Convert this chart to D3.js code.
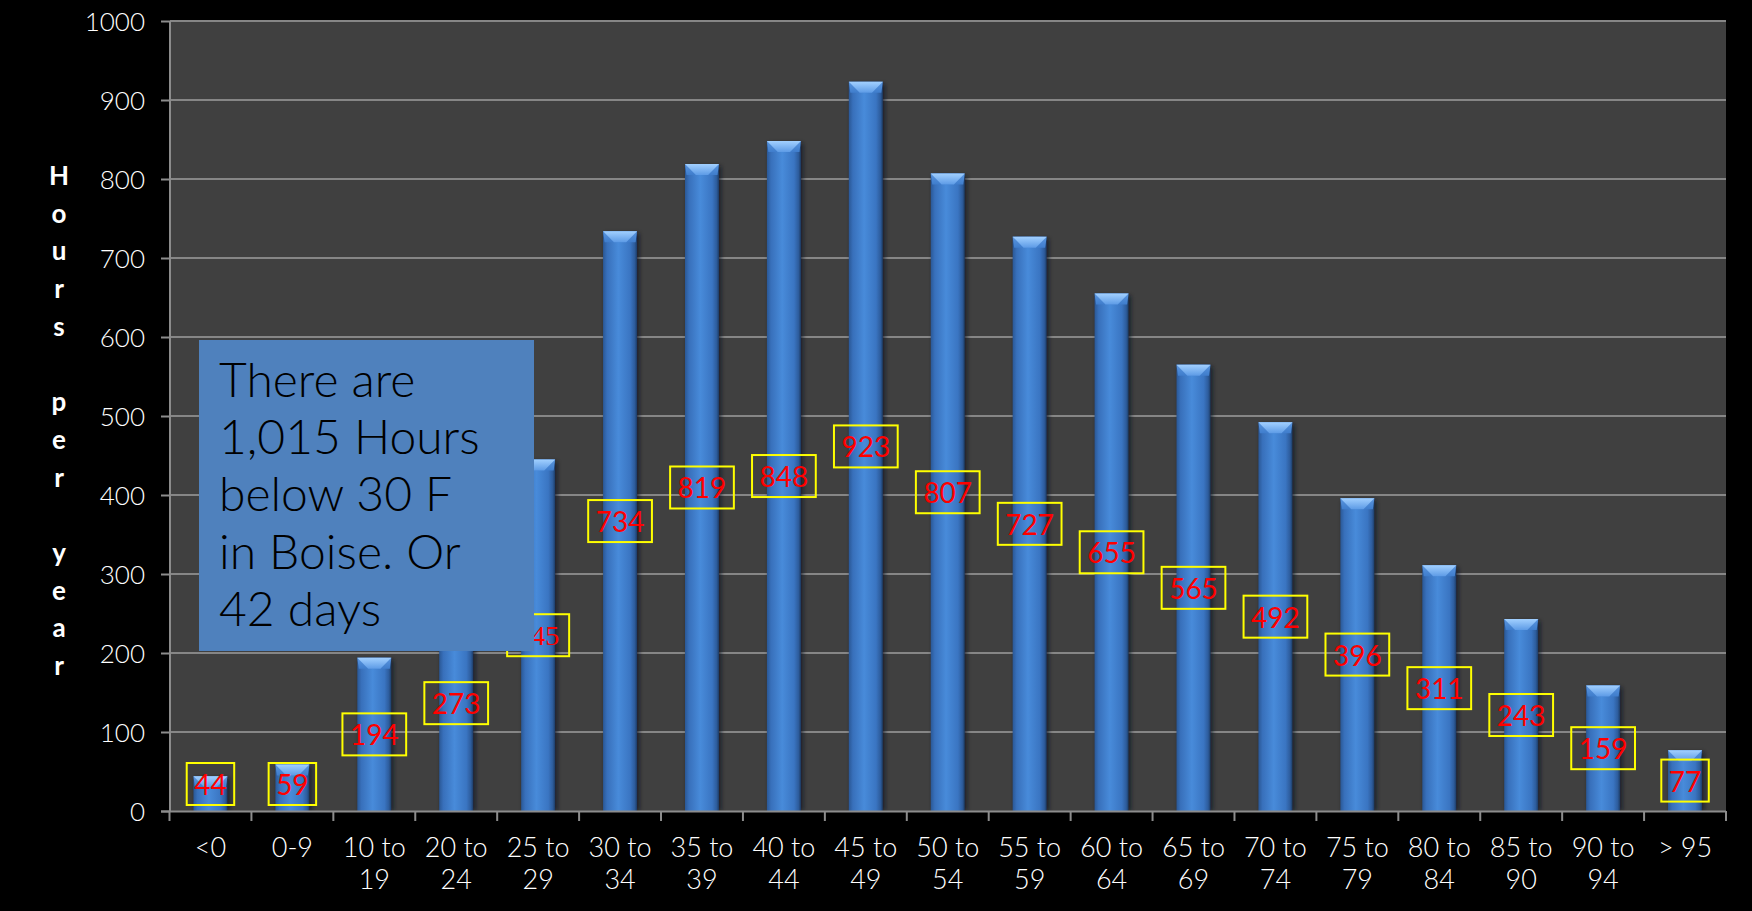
<!DOCTYPE html>
<html>
<head>
<meta charset="utf-8">
<script src="https://cdn.jsdelivr.net/npm/d3@7/dist/d3.min.js"></script>
<style>
  html, body { margin: 0; padding: 0; background: #000; }
  svg { display: block; }
</style>
</head>
<body>
<svg id="chart" width="1752" height="911"></svg>
<script>
// Hours per year spent in each temperature bin (°F), Boise
const categories = ["<0", "0-9", "10 to 19", "20 to 24", "25 to 29", "30 to 34", "35 to 39",
  "40 to 44", "45 to 49", "50 to 54", "55 to 59", "60 to 64", "65 to 69", "70 to 74",
  "75 to 79", "80 to 84", "85 to 90", "90 to 94", "> 95"];
const hours = [44, 59, 194, 273, 445, 734, 819, 848, 923, 807, 727, 655, 565, 492, 396, 311, 243, 159, 77];
const yTicks = [0, 100, 200, 300, 400, 500, 600, 700, 800, 900, 1000];
const yTitle = "Hours per year";
const noteLines = ["There are", "1,015 Hours", "below 30 F", "in Boise. Or", "42 days"];

const FONT = "'Century Gothic', 'URW Gothic', Lato, 'Noto Sans', sans-serif";

const svg = d3.select("#chart");
const W = 1752, H = 911;
const plot = { left: 170, right: 1726, top: 21, bottom: 811 };

svg.append("rect").attr("width", W).attr("height", H).attr("fill", "#000");

const x = d3.scaleBand()
  .domain(categories)
  .range([169.5, plot.right])
  .paddingInner(0.585)
  .paddingOuter(0.2925);

const y = d3.scaleLinear().domain([0, 1000]).range([plot.bottom, plot.top]);

const defs = svg.append("defs");

const barGrad = defs.append("linearGradient").attr("id", "barGrad")
  .attr("x1", "0%").attr("x2", "100%").attr("y1", "0%").attr("y2", "0%");
[["0%", "#2a5896"], ["12%", "#3870bb"], ["45%", "#488bda"], ["80%", "#3a75c2"], ["93%", "#2d5c9c"], ["100%", "#1d3c66"]]
  .forEach(([o, c]) => barGrad.append("stop").attr("offset", o).attr("stop-color", c));

const capGrad = defs.append("linearGradient").attr("id", "capGrad")
  .attr("x1", "0%").attr("x2", "0%").attr("y1", "0%").attr("y2", "100%");
[["0%", "#a2d0ff"], ["100%", "#5d9be6"]]
  .forEach(([o, c]) => capGrad.append("stop").attr("offset", o).attr("stop-color", c));

const sideGrad = defs.append("linearGradient").attr("id", "sideGrad")
  .attr("x1", "0%").attr("x2", "0%").attr("y1", "0%").attr("y2", "100%");
[["0%", "#5a95de"], ["100%", "#3f7dcc"]]
  .forEach(([o, c]) => sideGrad.append("stop").attr("offset", o).attr("stop-color", c));

const blur = defs.append("filter").attr("id", "shadow")
  .attr("x", "-50%").attr("y", "-10%").attr("width", "200%").attr("height", "120%");
blur.append("feGaussianBlur").attr("stdDeviation", 2);

// plot background
svg.append("rect")
  .attr("x", plot.left).attr("y", plot.top)
  .attr("width", plot.right - plot.left).attr("height", plot.bottom - plot.top)
  .attr("fill", "#404040");

// horizontal gridlines
svg.append("g").selectAll("line").data(yTicks.filter(t => t > 0)).join("line")
  .attr("x1", plot.left).attr("x2", plot.right)
  .attr("y1", d => y(d)).attr("y2", d => y(d))
  .attr("stroke", "#868686").attr("stroke-width", 2);

// y axis
const yAxis = svg.append("g")
  .attr("transform", `translate(${plot.left},0)`)
  .call(d3.axisLeft(y).tickValues(yTicks).tickSize(9).tickPadding(16).tickFormat(d3.format("d")));
yAxis.select(".domain").attr("stroke", "#8c8c8c").attr("stroke-width", 2)
  .attr("d", `M0,${plot.top}V${plot.bottom}`);
yAxis.selectAll(".tick line").attr("stroke", "#8c8c8c").attr("stroke-width", 2);
yAxis.selectAll(".tick text")
  .attr("fill", "#fff").attr("font-family", FONT).attr("font-weight", 300)
  .attr("font-size", 26).attr("dy", "0.35em");

// y axis title, one letter per row
const titleRows = yTitle.split("");
svg.append("g").selectAll("text").data(titleRows).join("text")
  .attr("x", 59)
  .attr("y", (d, i) => 175 + i * 37.7)
  .attr("text-anchor", "middle")
  .attr("dominant-baseline", "central")
  .attr("fill", "#fff")
  .attr("font-family", FONT)
  .attr("font-weight", "bold")
  .attr("font-size", 26)
  .text(d => d);

// bars
const bw = x.bandwidth();
const bars = svg.append("g").selectAll("g").data(categories).join("g");
bars.append("rect")
  .attr("x", d => x(d) + 2).attr("y", (d, i) => y(hours[i]) + 2)
  .attr("width", bw).attr("height", (d, i) => plot.bottom - y(hours[i]) - 2)
  .attr("fill", "#0a1424").attr("opacity", 0.75).attr("filter", "url(#shadow)");
bars.append("rect")
  .attr("x", d => x(d)).attr("y", (d, i) => y(hours[i]))
  .attr("width", bw).attr("height", (d, i) => plot.bottom - y(hours[i]))
  .attr("fill", "url(#barGrad)");
// bevelled top: side facets then the light top facet
const bevel = 11;
bars.append("path")
  .attr("d", (d, i) => {
    const x0 = x(d), x1 = x(d) + bw, t = y(hours[i]);
    return `M${x0},${t}L${x1},${t}L${x1 - 1.5},${t + bevel}L${x0 + 1.5},${t + bevel}Z`;
  })
  .attr("fill", "url(#sideGrad)");
bars.append("path")
  .attr("d", (d, i) => {
    const x0 = x(d), x1 = x(d) + bw, t = y(hours[i]);
    return `M${x0},${t}L${x1},${t}L${x1 - bw * 0.32},${t + bevel}L${x0 + bw * 0.32},${t + bevel}Z`;
  })
  .attr("fill", "url(#capGrad)");

// x axis line and tick marks at category boundaries
svg.append("line")
  .attr("x1", plot.left - 9).attr("x2", plot.right)
  .attr("y1", plot.bottom + 0.5).attr("y2", plot.bottom + 0.5)
  .attr("stroke", "#8c8c8c").attr("stroke-width", 2);
const bounds = d3.range(categories.length + 1).map(i => x.range()[0] + i * x.step());
svg.append("g").selectAll("line").data(bounds).join("line")
  .attr("x1", d => d).attr("x2", d => d)
  .attr("y1", plot.bottom).attr("y2", plot.bottom + 10)
  .attr("stroke", "#8c8c8c").attr("stroke-width", 2);

// x labels (wrapped after "to")
const xl = svg.append("g").selectAll("text").data(categories).join("text")
  .attr("text-anchor", "middle")
  .attr("fill", "#fff")
  .attr("font-family", FONT)
  .attr("font-weight", 300)
  .attr("font-size", 27);
xl.each(function(d) {
  const lines = d.includes(" to ") ? [d.split(" to ")[0] + " to", d.split(" to ")[1]] : [d];
  const cx = x(d) + bw / 2;
  d3.select(this).selectAll("tspan").data(lines).join("tspan")
    .attr("x", cx).attr("y", (l, j) => 857 + j * 32).text(l => l);
});

// value labels in yellow boxes
const labels = svg.append("g").selectAll("g").data(categories).join("g");
labels.each(function(d, i) {
  const g = d3.select(this);
  const cx = x(d) + bw / 2;
  const boxH = 42;
  const mid = (y(hours[i]) + plot.bottom) / 2;
  const cy = Math.min(mid, plot.bottom - 6 - boxH / 2);
  const rect = g.append("rect");
  const serif = d === "25 to 29";
  const t = g.append("text")
    .attr("x", cx).attr("y", cy)
    .attr("text-anchor", "middle")
    .attr("dominant-baseline", "central")
    .attr("fill", "#ff0000")
    .attr("font-family", serif ? "'Liberation Serif', 'Times New Roman', serif" : FONT)
    .attr("font-weight", 400)
    .attr("font-size", 28)
    .text(hours[i]);
  const tw = t.node().getComputedTextLength();
  const boxW = tw + (serif ? 20 : 15);
  rect.attr("x", cx - boxW / 2).attr("y", cy - boxH / 2)
    .attr("width", boxW).attr("height", boxH)
    .attr("fill", "none").attr("stroke", "#ffff00").attr("stroke-width", 2);
});

// note box
const note = svg.append("g");
note.append("rect")
  .attr("x", 199).attr("y", 340).attr("width", 335).attr("height", 311)
  .attr("fill", "#4f81bd");
note.append("text")
  .attr("font-family", FONT)
  .attr("font-weight", 300)
  .attr("font-size", 48)
  .attr("fill", "#000")
  .selectAll("tspan").data(noteLines).join("tspan")
  .attr("x", 219).attr("y", (d, i) => 397 + i * 57.2)
  .text(d => d);
</script>
</body>
</html>
